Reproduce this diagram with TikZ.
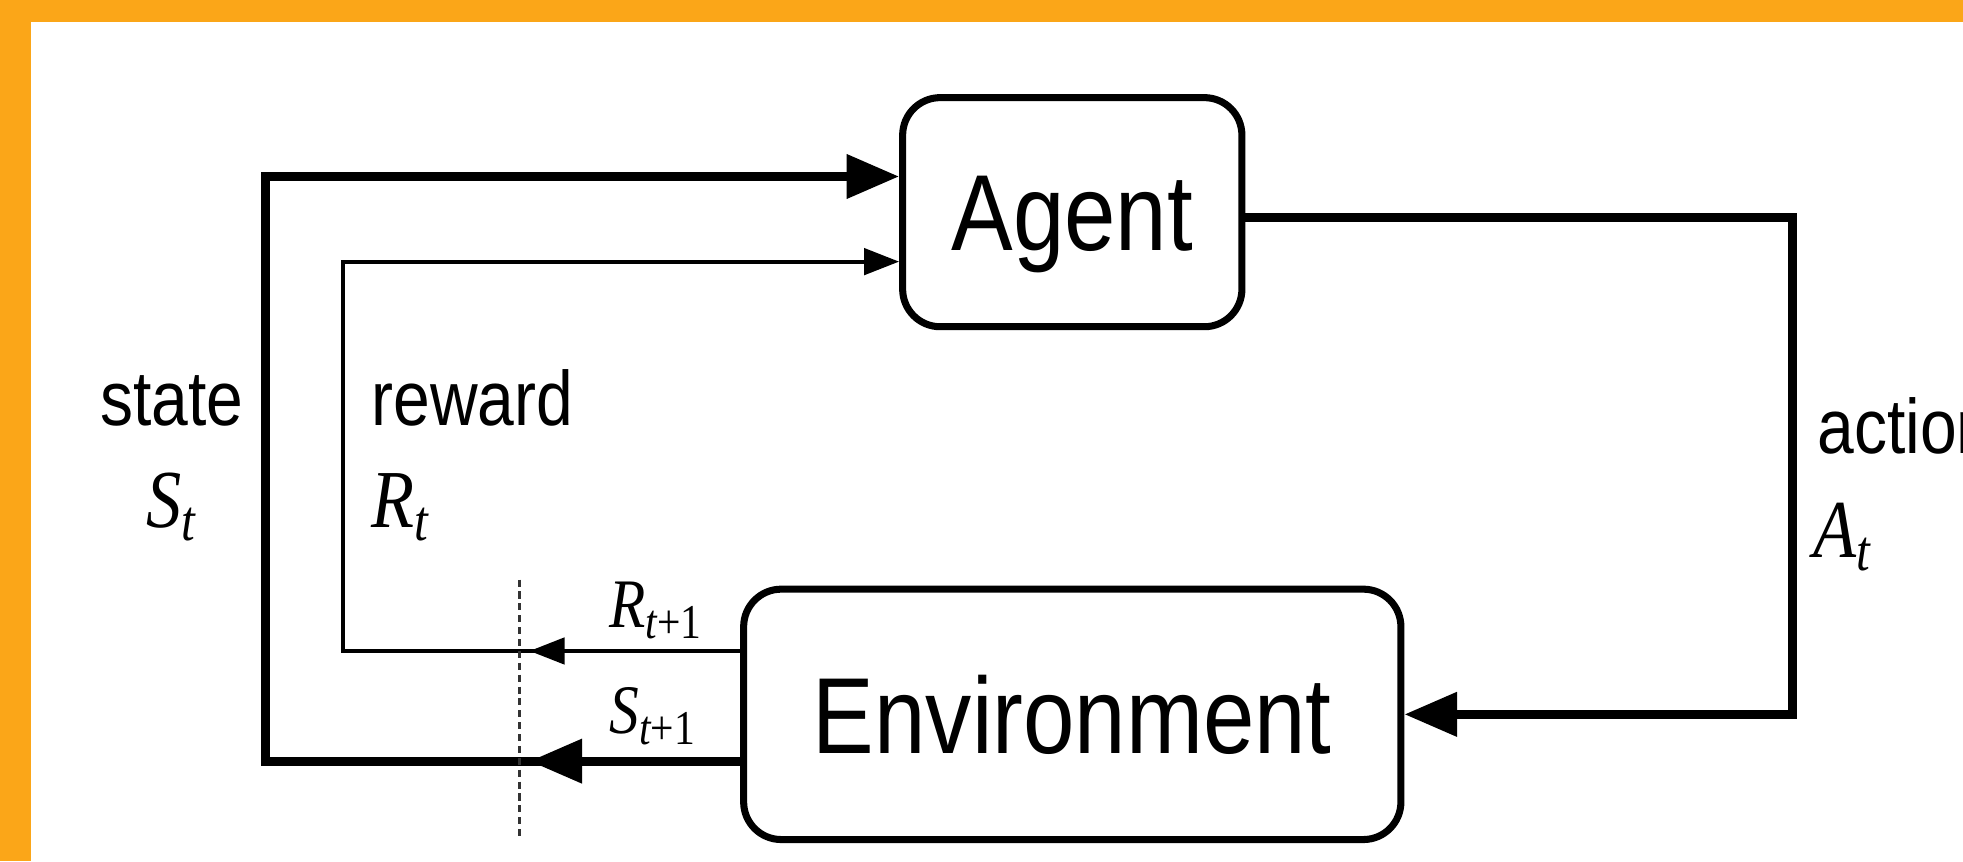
\documentclass[tikz,border=0pt]{standalone}
\usepackage{fontspec}
\setmainfont{Liberation Sans}
\newfontfamily\rlserif{Liberation Serif}
\usepackage{graphicx}
\usetikzlibrary{arrows.meta,positioning}
\definecolor{frameorange}{RGB}{251,166,24}
\newcommand{\tall}[1]{\scalebox{1}[1.17]{#1}}

\begin{document}
\begin{tikzpicture}[
  > = {Triangle[length=0.42cm, width=0.34cm]},
  box/.style = {draw, rounded corners=0.3cm, line width=1.6pt, align=center,
                text height=0.62cm, text depth=0pt,
                font=\fontsize{21}{25}\selectfont},
  bold/.style = {line width=2pt},
  slim/.style = {line width=0.9pt, >={Triangle[length=0.28cm, width=0.21cm]}},
  lbl/.style = {inner sep=0pt, font=\fontsize{15}{18}\selectfont},
  sym/.style = {inner sep=0pt, font=\rlserif\itshape\fontsize{16}{19}\selectfont},
  ssym/.style = {inner sep=0pt, font=\rlserif\itshape\fontsize{13.5}{16}\selectfont},
  cut/.style = {line width=0.6pt, black!80, dash pattern=on 1.6pt off 1.1pt}
]
% frame
\useasboundingbox (0,0) rectangle (15.68,6.88);
\fill[frameorange] (0,0) rectangle (15.68,6.88);
\fill[white] (0.25,0) rectangle (15.68,6.705);

% blocks
\node[box, minimum width=2.71cm, minimum height=1.83cm] (agent) at (8.565,5.185) {\tall{Agent}};
\node[box, minimum width=5.25cm, minimum height=2.00cm, below=2.04cm of agent] (env) {\tall{Environment}};

% corners of the loops
\coordinate (sCorner) at (2.12,0.80);
\coordinate (sTop) at (2.12,5.47);
\coordinate (rCorner) at (2.74,1.68);
\coordinate (rTop) at (2.74,4.79);
\coordinate (aCorner) at (14.32,5.14);
\coordinate (sTip) at (4.23,0.80);
\coordinate (rTip) at (4.23,1.68);
\coordinate (cutTop) at (4.15,2.25);
\coordinate (cutBot) at (4.15,0.20);

% state
\draw[bold, ->] (env.west |- sCorner) -- (sCorner) -- (sTop) -- (agent.west |- sTop);
\draw[bold, ->] (env.west |- sCorner) -- (sTip);

% reward
\draw[slim, ->] (env.west |- rCorner) -- (rCorner) -- (rTop) -- (agent.west |- rTop);
\draw[slim, ->] (env.west |- rCorner) -- (rTip);

% action
\draw[bold, ->] (agent.east |- aCorner) -- (aCorner) |- (env.east);

% time step boundary
\draw[cut] (cutTop) -- (cutBot);

% labels
\node[lbl, anchor=base] (stateL) at (1.375,3.48) {\tall{state}};
\node[sym, anchor=base] (stL) at (1.375,2.67) {\tall{S\textsubscript{t}}};
\node[lbl, anchor=base west] (rewardL) at (2.96,3.48) {\tall{reward}};
\node[sym, anchor=base west] (rtL) at (2.96,2.67) {\tall{R\textsubscript{t}}};
\node[lbl, anchor=base west] (actionL) at (14.51,3.26) {\tall{action}};
\node[sym, anchor=base west] (atL) at (14.48,2.43) {\tall{A\textsubscript{t}}};
\node[ssym, anchor=base west] (rnextL) at (4.86,1.87) {\tall{R\textsubscript{t\upshape+1}}};
\node[ssym, anchor=base west] (snextL) at (4.86,1.02) {\tall{S\textsubscript{t\upshape+1}}};
\end{tikzpicture}
\end{document}
